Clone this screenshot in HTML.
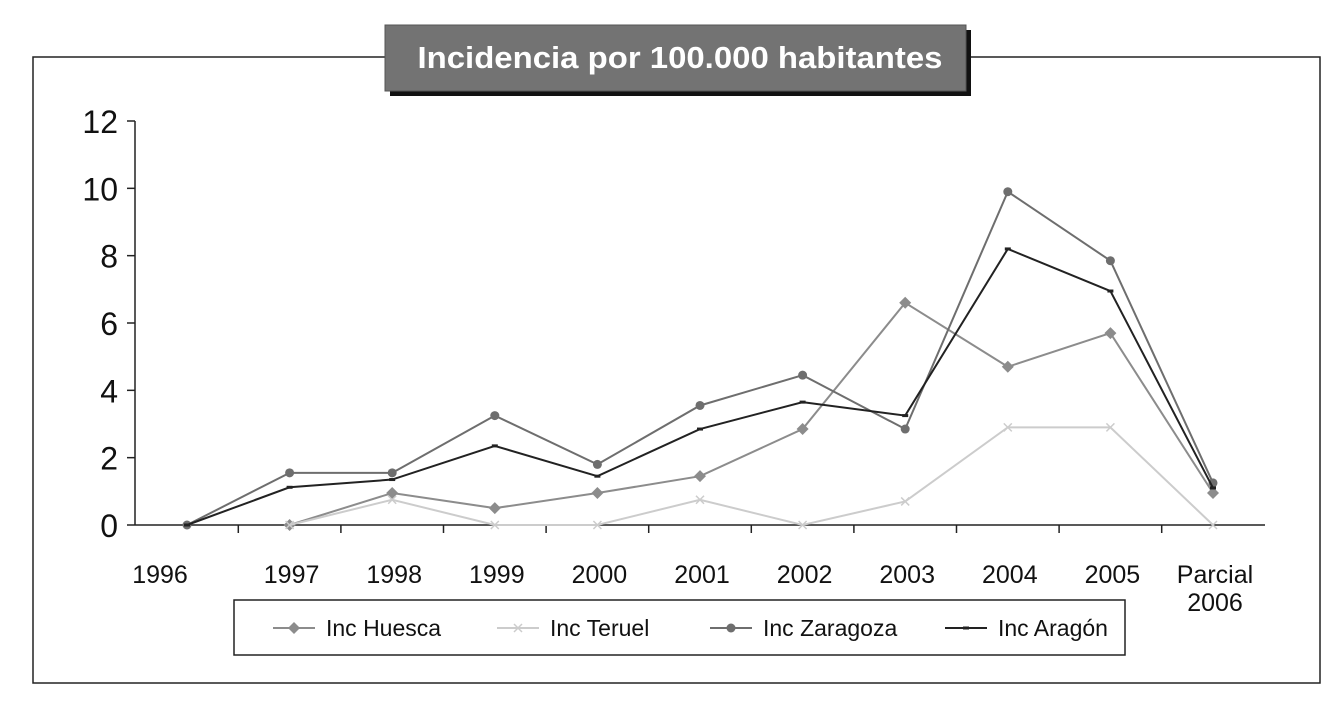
<!DOCTYPE html>
<html><head><meta charset="utf-8"><style>
html,body{margin:0;padding:0;background:#fff;}
svg{display:block;font-family:"Liberation Sans",sans-serif;}
</style></head><body>
<svg id="chart" width="1344" height="720" viewBox="0 0 1344 720">
<rect x="33" y="57" width="1287" height="626" fill="none" stroke="#222" stroke-width="1.5"/>
<rect x="390" y="30" width="581" height="66" fill="#111"/>
<rect x="385" y="25" width="581" height="66" fill="#737373" stroke="#555"/>
<text x="680" y="68" text-anchor="middle" fill="#fff" font-size="31" font-weight="bold" textLength="525" lengthAdjust="spacingAndGlyphs">Incidencia por 100.000 habitantes</text>
<g id="axes"></g>
<g id="series"></g>
<rect x="234" y="600" width="891" height="55" fill="#fff" stroke="#222" stroke-width="1.5"/>
<g id="legend"></g>
</svg>
<script>
const categories=["1996","1997","1998","1999","2000","2001","2002","2003","2004","2005","Parcial 2006"];
const yTicks=[0,2,4,6,8,10,12];
const huesca=[null,0,0.95,0.5,0.95,1.45,2.85,6.6,4.7,5.7,0.95];
const teruel=[null,0,0.75,0,0,0.75,0,0.7,2.9,2.9,0];
const zaragoza=[0,1.55,1.55,3.25,1.8,3.55,4.45,2.85,9.9,7.85,1.25];
const aragon=[0,1.12,1.35,2.35,1.45,2.85,3.65,3.25,8.2,6.95,1.1];
const seriesNames=["Inc Huesca","Inc Teruel","Inc Zaragoza","Inc Aragón"];

const NS="http://www.w3.org/2000/svg";
const x0=187,dx=102.6,yBase=525,yTop=121,yMax=12;
const xs=i=>x0+i*dx;
const ys=v=>yBase-(v/yMax)*(yBase-yTop);
function mk(tag,attrs,parent){const e=document.createElementNS(NS,tag);for(const k in attrs)e.setAttribute(k,attrs[k]);parent.appendChild(e);return e;}
const axes=document.getElementById('axes');
let a=mk('line',{x1:135,y1:yTop,x2:135,y2:yBase,stroke:'#222','stroke-width':1.5},axes);


a=mk('line',{x1:135,y1:yBase,x2:1265,y2:yBase,stroke:'#222','stroke-width':1.5},axes);


yTicks.forEach(v=>{
 const t=mk('line',{x1:127,x2:135,y1:ys(v),y2:ys(v),stroke:'#222','stroke-width':1.5},axes);
 
 
 const l=mk('text',{x:118,y:ys(v)+12,'text-anchor':'end','font-size':32,fill:'#111'},axes);
 l.textContent=v;
 
 
});
categories.forEach((c,i)=>{
 if(i<categories.length-1){
  const t=mk('line',{x1:xs(i)+dx/2,x2:xs(i)+dx/2,y1:yBase,y2:yBase+8,stroke:'#222','stroke-width':1.5},axes);
  
  
 }
 const l=mk('text',{x:i===0?xs(i)-27:xs(i)+2,y:583,'text-anchor':'middle','font-size':25,fill:'#111'},axes);
 
 
 const parts=c.split(' ');
 parts.forEach((p,k)=>{const s=mk('tspan',{x:i===0?xs(i)-27:xs(i)+2,dy:k?28:0},l);s.textContent=p;});
});
const styles=[
 {d:huesca,c:'#8c8c8c',m:'diamond'},
 {d:teruel,c:'#cccccc',m:'x'},
 {d:zaragoza,c:'#6e6e6e',m:'circle'},
 {d:aragon,c:'#222',m:'dash'}];
const sg=document.getElementById('series');
function marker(type,x,y,c,g){
 let e;
 if(type==='diamond')e=mk('path',{d:`M${x} ${y-6}L${x+6} ${y}L${x} ${y+6}L${x-6} ${y}Z`,fill:c},g);
 else if(type==='circle')e=mk('circle',{cx:x,cy:y,r:4.5,fill:c},g);
 else if(type==='x')e=mk('path',{d:`M${x-4} ${y-4}L${x+4} ${y+4}M${x+4} ${y-4}L${x-4} ${y+4}`,stroke:c,'stroke-width':1.5,fill:'none'},g);
 else e=mk('rect',{x:x-3,y:y-1.5,width:6,height:3,fill:c},g);
 return e;
}
const keys=['huesca','teruel','zaragoza','aragon'];
styles.forEach((s,si)=>{
 const g=mk('g',{},sg);
 
 
 let d='',pen=false;
 s.d.forEach((v,i)=>{if(v===null){pen=false;return;}d+=(pen?'L':'M')+xs(i)+' '+ys(v);pen=true;});
 const p=mk('path',{d:d,fill:'none',stroke:s.c,'stroke-width':2},g);
 
 
 s.d.forEach((v,i)=>{if(v===null)return;const m=marker(s.m,xs(i),ys(v),s.c,g);
  
  });
});
const lg=document.getElementById('legend');
const lx=[273,497,710,945];
styles.forEach((s,i)=>{
 const g=mk('g',{},lg);
 
 
 mk('line',{x1:lx[i],x2:lx[i]+42,y1:628,y2:628,stroke:s.c,'stroke-width':2},g);
 marker(s.m,lx[i]+21,628,s.c,g);
 const t=mk('text',{x:lx[i]+53,y:636,'font-size':23,fill:'#111'},g);
 t.textContent=seriesNames[i];
});
</script>
</body></html>
